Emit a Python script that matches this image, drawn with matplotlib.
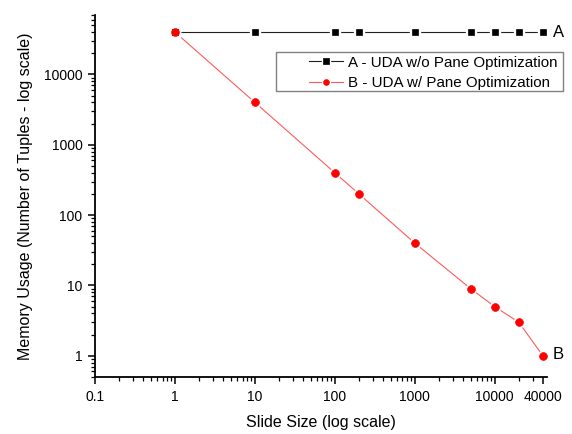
import matplotlib
matplotlib.use("Agg")
import matplotlib.pyplot as plt
from matplotlib.ticker import FixedLocator, FixedFormatter, LogLocator, NullFormatter
from matplotlib.legend_handler import HandlerTuple
from matplotlib.patches import Rectangle

plt.rcParams['font.family'] = ['Liberation Sans', 'DejaVu Sans']

slide_sizes = [1, 10, 100, 200, 1000, 5000, 10000, 20000, 40000]
mem_a = [40000, 40000, 40000, 40000, 40000, 40000, 40000, 40000, 40000]
mem_b = [40000, 4000, 400, 200, 40, 9, 5, 3, 1]
label_a = "A - UDA w/o Pane Optimization"
label_b = "B - UDA w/ Pane Optimization"
x_ticks = [0.1, 1, 10, 100, 1000, 10000, 40000]
x_tick_labels = ["0.1", "1", "10", "100", "1000", "10000", "40000"]
y_ticks = [1, 10, 100, 1000, 10000]
y_tick_labels = ["1", "10", "100", "1000", "10000"]

fig = plt.figure(figsize=(5.72, 4.34), dpi=100)
ax = fig.add_axes([0.1661, 0.1313, 0.7902, 0.8341])

la, = ax.plot(slide_sizes, mem_a, color='#202020', lw=0.8, zorder=2)
lb, = ax.plot(slide_sizes, mem_b, color='#ff5a5a', lw=0.8, zorder=2)
ha, = ax.plot(slide_sizes, mem_a, ls='none', marker='s', ms=7.5, mfc='white', mec='white', zorder=3)
hb, = ax.plot(slide_sizes, mem_b, ls='none', marker='o', ms=7.5, mfc='white', mec='white', zorder=3)
ma, = ax.plot(slide_sizes, mem_a, ls='none', marker='s', ms=5.0, mfc='black', mec='black', mew=0.5, zorder=4)
mb, = ax.plot(slide_sizes, mem_b, ls='none', marker='o', ms=5.6, mfc='red', mec='red', mew=0.5, zorder=5)

ax.set_xscale('log')
ax.set_yscale('log')
ax.set_xlim(0.1, 45000)
ax.set_ylim(0.5, 70000)

ax.xaxis.set_major_locator(FixedLocator(x_ticks))
ax.xaxis.set_major_formatter(FixedFormatter(x_tick_labels))
ax.xaxis.set_minor_locator(LogLocator(base=10, subs=range(2, 10), numticks=20))
ax.xaxis.set_minor_formatter(NullFormatter())
ax.yaxis.set_major_locator(FixedLocator(y_ticks))
ax.yaxis.set_major_formatter(FixedFormatter(y_tick_labels))
ax.yaxis.set_minor_locator(LogLocator(base=10, subs=range(2, 10), numticks=20))
ax.yaxis.set_minor_formatter(NullFormatter())

for s in ['top', 'right']:
    ax.spines[s].set_visible(False)
for s in ['left', 'bottom']:
    ax.spines[s].set_linewidth(1.3)

ax.tick_params(which='major', direction='out', length=5, width=1.1, labelsize=10, pad=4)
ax.tick_params(which='minor', direction='out', length=3, width=0.9)

ax.set_xlabel("Slide Size (log scale)", fontsize=11.5, labelpad=8)
ax.set_ylabel("Memory Usage (Number of Tuples - log scale)", fontsize=11.5, labelpad=8)

ax.annotate("A", xy=(slide_sizes[-1], mem_a[-1]), xytext=(7, 0), textcoords='offset points',
            va='center', ha='left', fontsize=12, annotation_clip=False)
ax.annotate("B", xy=(slide_sizes[-1], mem_b[-1]), xytext=(7, 1), textcoords='offset points',
            va='center', ha='left', fontsize=12, annotation_clip=False)

# legend frame (Origin-style, with wide left padding)
fig.patches.append(Rectangle((276 / 572, 1 - 91 / 434), 287 / 572, 39 / 434,
                             transform=fig.transFigure, fill=False,
                             edgecolor='#808080', lw=1.0, zorder=10))

leg = ax.legend([(la, ha, ma), (lb, hb, mb)], [label_a, label_b],
                handler_map={tuple: HandlerTuple(ndivide=1, pad=0)},
                loc='upper left', bbox_to_anchor=(309 / 572, 1 - 55.5 / 434),
                bbox_transform=fig.transFigure, fontsize=10.9, frameon=False,
                borderaxespad=0, borderpad=0, handlelength=2.25,
                handletextpad=0.3, labelspacing=0.45, markerscale=0.75)

fig.savefig("out.png", dpi=100)
